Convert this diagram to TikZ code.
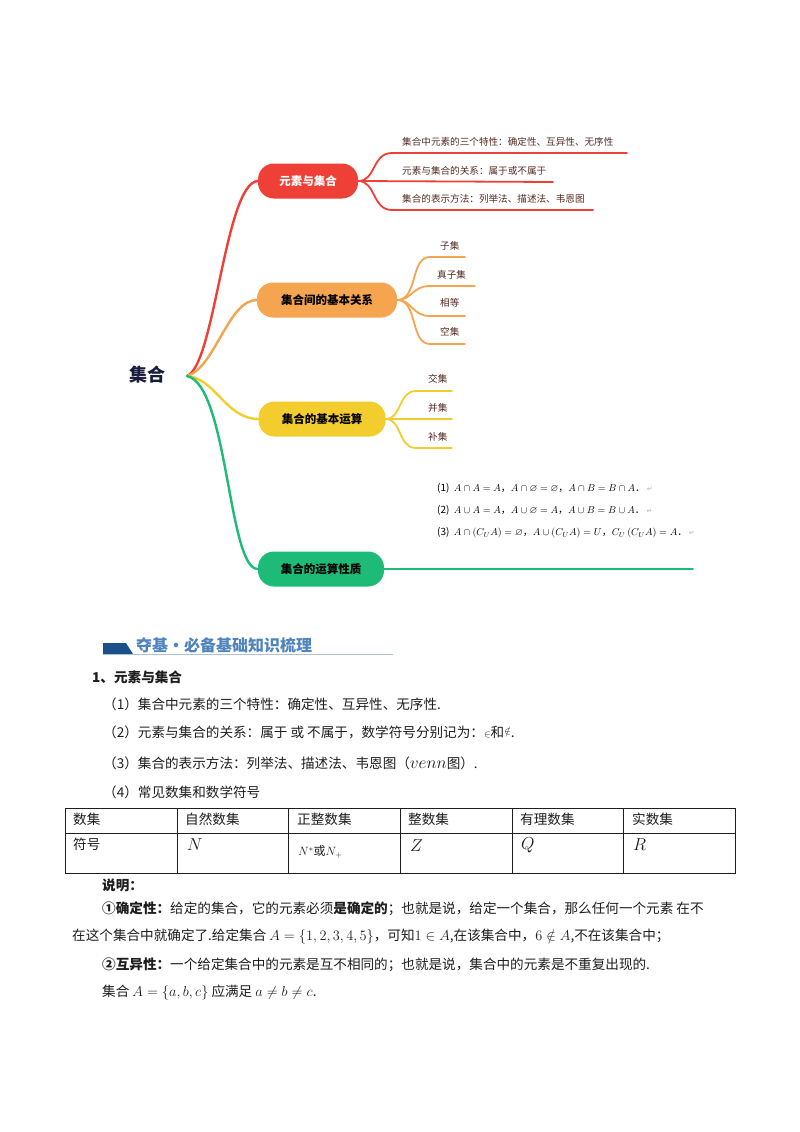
\documentclass[tikz,border=0pt]{standalone}
\usepackage{amsmath}
\usepackage{amssymb}
\usepackage{fontspec}
\setmainfont{Noto Sans CJK SC}
\newfontfamily\retfont{DejaVu Sans}
\usetikzlibrary{positioning}
\definecolor{mmred}{RGB}{238, 64, 54}
\definecolor{mmorange}{RGB}{245, 164, 80}
\definecolor{mmyellow}{RGB}{243, 205, 45}
\definecolor{mmgreen}{RGB}{30, 186, 120}
\definecolor{rootink}{RGB}{25, 28, 60}
\definecolor{leafink}{RGB}{85, 42, 36}
\definecolor{headblue}{RGB}{80, 132, 188}
\definecolor{barblue}{RGB}{28, 80, 140}
\definecolor{ruleblue}{RGB}{175, 195, 215}
\definecolor{bodyink}{RGB}{30, 30, 30}
\tikzset{
topic/.style={
  fill=#1,
  rounded corners=16pt,
  minimum height=35pt,
  inner sep=0pt,
  font=\bfseries\fontsize{11.5}{13}\selectfont
},
branch/.style={
  draw=#1,
  line width=2.4pt,
  line cap=round
},
twig/.style={
  draw=#1,
  line width=1.8pt,
  line cap=round
},
leaf/.style={
  anchor=west,
  inner sep=0pt,
  text=leafink,
  font=\fontsize{9.6}{11}\selectfont
},
body/.style={
  anchor=west,
  inner sep=0pt,
  text=bodyink,
  font=\fontsize{13.6}{16}\selectfont
},
cell/.style={
  anchor=west,
  inner sep=0pt,
  text=bodyink,
  font=\fontsize{13.6}{16}\selectfont
}
}
\newcommand{\retmark}{{\color{black!30}\retfont\fontsize{7}{8}\selectfont ↵}}

\begin{document}
\begin{tikzpicture}[x=1pt, y=-1pt,
    formula/.style={anchor=west, inner sep=0pt, font=\fontsize{10}{12}\selectfont}
  ]
  \useasboundingbox[fill=white] (0,0) rectangle (800,1132);

  % mind map
  \node[font=\bfseries\fontsize{18}{20}\selectfont, text=rootink] (root) at (147,375) {集合};
  \coordinate (hub) at (187,376);

  \node[topic=mmred, minimum width=100pt, text=white] (elem) at (308,181) {元素与集合};
  \node[topic=mmorange, minimum width=140pt] (rel) at (327,300) {集合间的基本关系};
  \node[topic=mmyellow, minimum width=127pt] (ops) at (322,419) {集合的基本运算};
  \node[topic=mmgreen, minimum width=126pt] (prop) at (321,569) {集合的运算性质};

  \draw[branch=mmred] (hub) .. controls (215,365) and (225,183) .. (elem.west);
  \draw[branch=mmorange] (hub) .. controls (215,368) and (228,300) .. (rel.west);
  \draw[branch=mmyellow] (hub) .. controls (215,378) and (226,419) .. (ops.west);
  \draw[branch=mmgreen] (hub) .. controls (228,385) and (228,569) .. (prop.west);

  % red leaves
  \node[leaf] (r1) at (402,142) {集合中元素的三个特性：确定性、互异性、无序性};
  \node[leaf] (r2) at (402,171) {元素与集合的关系：属于或不属于};
  \node[leaf] (r3) at (402,199) {集合的表示方法：列举法、描述法、韦恩图};
  \coordinate (r1e) at (627,153);
  \coordinate (r2e) at (553,182);
  \coordinate (r3e) at (593,210);
  \draw[twig=mmred] (elem.east) .. controls (376,181) and (372,153) .. (392,153) -- (r1e);
  \draw[twig=mmred] (elem.east) -- (r2e);
  \draw[twig=mmred] (elem.east) .. controls (376,181) and (372,210) .. (392,210) -- (r3e);

  % orange leaves
  \node[leaf] (o1) at (440,246) {子集};
  \node[leaf] (o2) at (437,275) {真子集};
  \node[leaf] (o3) at (440,303) {相等};
  \node[leaf] (o4) at (440,332) {空集};
  \coordinate (o1e) at (465,257);
  \coordinate (o2e) at (475,286);
  \coordinate (o3e) at (465,316);
  \coordinate (o4e) at (465,344);
  \draw[twig=mmorange] (rel.east) .. controls (418,300) and (410,257) .. (430,257) -- (o1e);
  \draw[twig=mmorange] (rel.east) .. controls (412,300) and (412,286) .. (430,286) -- (o2e);
  \draw[twig=mmorange] (rel.east) .. controls (412,300) and (412,316) .. (430,316) -- (o3e);
  \draw[twig=mmorange] (rel.east) .. controls (418,300) and (410,344) .. (430,344) -- (o4e);

  % yellow leaves
  \node[leaf] (y1) at (428,379) {交集};
  \node[leaf] (y2) at (428,408) {并集};
  \node[leaf] (y3) at (428,437) {补集};
  \coordinate (y1e) at (452,391);
  \coordinate (y2e) at (452,419);
  \coordinate (y3e) at (452,448);
  \draw[twig=mmyellow] (ops.east) .. controls (402,419) and (398,391) .. (416,391) -- (y1e);
  \draw[twig=mmyellow] (ops.east) -- (y2e);
  \draw[twig=mmyellow] (ops.east) .. controls (402,419) and (398,448) .. (416,448) -- (y3e);

  % green line and formulas
  \coordinate (g1e) at (693,569);
  \draw[twig=mmgreen] (prop.east) -- (g1e);
  \node[formula] (f1) at (437,488) {(1)\ \ $A\cap A=A$，$A\cap\varnothing=\varnothing$，$A\cap B=B\cap A$．\,\retmark};
  \node[formula] (f2) at (437,510) {(2)\ \ $A\cup A=A$，$A\cup\varnothing=A$，$A\cup B=B\cup A$．\,\retmark};
  \node[formula] (f3) at (437,533) {(3)\ \ $A\cap\left(C_U A\right)=\varnothing$，$A\cup\left(C_U A\right)=U$，$C_U\left(C_U A\right)=A$．\,\retmark};

  % heading
  \fill[barblue] (103,643) -- (126,643) -- (133,654) -- (103,654) -- cycle;
  \draw[ruleblue, line width=0.8pt] (103,654.5) -- (393,654.5);
  \node[anchor=west, inner sep=0pt, text=headblue, font=\bfseries\fontsize{16}{18}\selectfont] (head) at (136,645) {夺基·必备基础知识梳理};

  \node[body, font=\bfseries\fontsize{13.6}{16}\selectfont] (sec) at (92,677) {1、元素与集合};
  \node[body] (i1) at (103,704) {（1）集合中元素的三个特性：确定性、互异性、无序性.};
  \node[body] (i2) at (103,732) {（2）元素与集合的关系：属于 或 不属于，数学符号分别记为：$\scriptstyle\in$和\raisebox{3pt}{$\scriptstyle\notin$}.};
  \node[body] (i3) at (103,763) {（3）集合的表示方法：列举法、描述法、韦恩图（{\fontsize{17}{17}\selectfont$venn$}图）.};
  \node[body] (i4) at (103,792) {（4）常见数集和数学符号};

  % table
  \draw[bodyink, line width=0.7pt] (65,808) rectangle (735,873);
  \draw[bodyink, line width=0.7pt] (65,833) -- (735,833);
  \foreach \cx in {177,288,400,512,623}
    \draw[bodyink, line width=0.7pt] (\cx,808) -- (\cx,873);
  \node[cell] (h1) at (73,819) {数集};
  \node[cell] (h2) at (185,819) {自然数集};
  \node[cell] (h3) at (297,819) {正整数集};
  \node[cell] (h4) at (408,819) {整数集};
  \node[cell] (h5) at (520,819) {有理数集};
  \node[cell] (h6) at (632,819) {实数集};
  \node[cell] (s1) at (73,844) {符号};
  \node[cell, font=\fontsize{17}{17}\selectfont] (s2) at (187,845) {$N$};
  \node[cell, font=\fontsize{12}{12}\selectfont] (s3) at (298,852) {$N^{*}$或$N_{+}$};
  \node[cell, font=\fontsize{17}{17}\selectfont] (s4) at (410,846) {$Z$};
  \node[cell, font=\fontsize{17}{17}\selectfont] (s5) at (521,845) {$Q$};
  \node[cell, font=\fontsize{17}{17}\selectfont] (s6) at (633,845) {$R$};

  % notes
  \node[body, font=\bfseries\fontsize{13.6}{16}\selectfont] (note) at (102,885) {说明：};
  \node[body] (n1) at (102,909) {\textbf{①确定性：}给定的集合，它的元素必须\textbf{是确定的}；也就是说，给定一个集合，那么任何一个元素 在不};
  \node[body] (n2) at (72,937) {在这个集合中就确定了.给定集合 $A=\{1,2,3,4,5\}$，可知$1\in A$,在该集合中，$6\notin A$,不在该集合中；};
  \node[body] (n3) at (102,965) {\textbf{②互异性：}一个给定集合中的元素是互不相同的；也就是说，集合中的元素是不重复出现的.};
  \node[body] (n4) at (102,993) {集合 $A=\{a,b,c\}$ 应满足 $a\neq b\neq c$.};
\end{tikzpicture}
\end{document}
